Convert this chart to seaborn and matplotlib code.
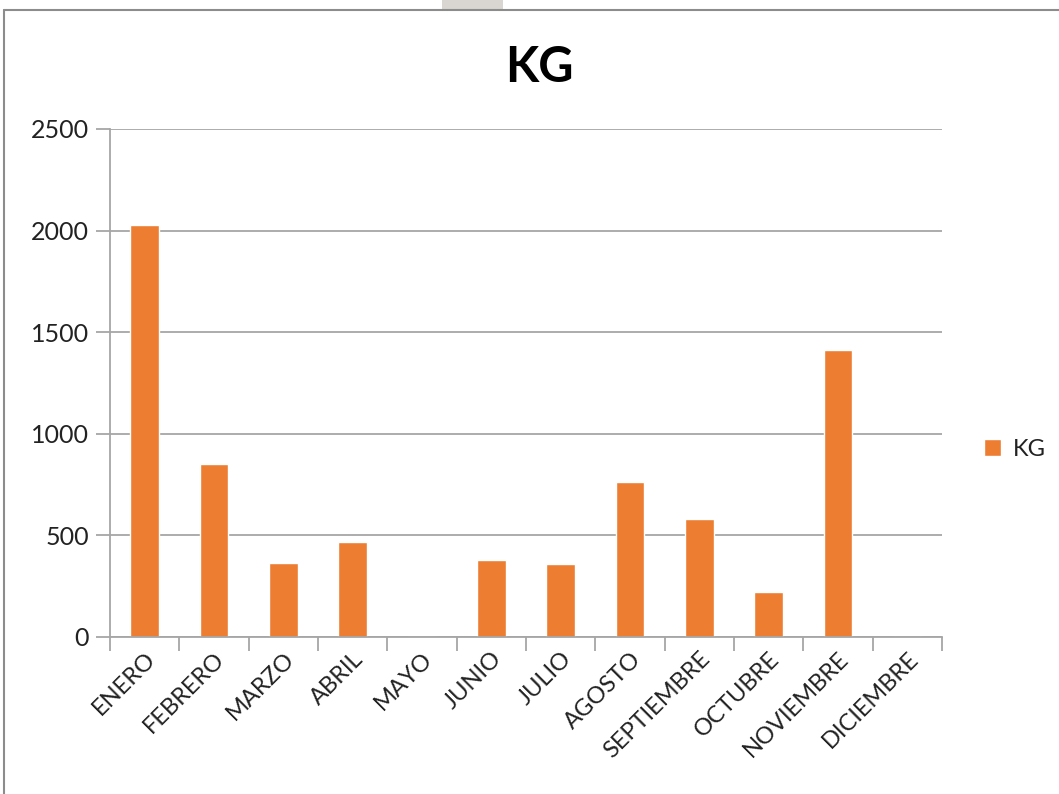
import pandas as pd
import matplotlib
matplotlib.use("Agg")
import matplotlib.pyplot as plt
import matplotlib.patches as mpatches
from matplotlib.ticker import FixedLocator
import seaborn as sns

# data
meses = ['ENERO', 'FEBRERO', 'MARZO', 'ABRIL', 'MAYO', 'JUNIO', 'JULIO',
         'AGOSTO', 'SEPTIEMBRE', 'OCTUBRE', 'NOVIEMBRE', 'DICIEMBRE']
kg = [2030, 849, 365, 466, 0, 377, 357, 761, 579, 222, 1414, 0]
serie = 'KG'
y_ticks = [0, 500, 1000, 1500, 2000, 2500]

ORANGE = '#ED7D31'
GRID = '#a6a6a6'

df = pd.DataFrame({'mes': meses, 'kg': kg, 'serie': serie})

sns.set_theme(style="white")
plt.rcParams['font.family'] = ['Lato', 'DejaVu Sans']

fig = plt.figure(figsize=(10.59, 7.94), dpi=100)
ax = fig.add_axes([110 / 1059, 1 - 637 / 794, (942 - 110) / 1059, (637 - 129) / 794])

sns.barplot(data=df, x='mes', y='kg', hue='serie', palette=[ORANGE],
            width=0.41, ax=ax, saturation=1)

ax.set_xlim(-0.5, len(meses) - 0.5)
ax.set_ylim(0, 2500)
ax.set_yticks(y_ticks)
ax.set_xlabel('')
ax.set_ylabel('')

# gridlines and axes in excel style
ax.yaxis.grid(True, color=GRID, linewidth=1.3)
ax.set_axisbelow(True)
for s in ['top', 'right']:
    ax.spines[s].set_visible(False)
for s in ['left', 'bottom']:
    ax.spines[s].set_color(GRID)
    ax.spines[s].set_linewidth(1.3)

ax.tick_params(axis='y', which='major', left=True, length=10, width=1.3,
               color=GRID, labelsize=18, labelcolor='#222222', pad=5)
ax.tick_params(axis='x', which='major', length=0, labelsize=17,
               labelcolor='#222222', pad=8)
ax.xaxis.set_minor_locator(FixedLocator([i - 0.5 for i in range(len(meses) + 1)]))
ax.tick_params(axis='x', which='minor', bottom=True, length=10, width=1.3, color=GRID)

for lab in ax.get_xticklabels():
    lab.set_rotation(45)
    lab.set_ha('right')
    lab.set_rotation_mode('anchor')

fig.text(539 / 1059, 1 - 82 / 794, 'KG', fontsize=35, fontweight='bold',
         color='black', ha='center', va='baseline')

leg = ax.legend(loc='center left', bbox_to_anchor=(1.025, 0.37), frameon=False,
                fontsize=17, handlelength=0.7, handleheight=0.7, handletextpad=0.5)
for t in leg.get_texts():
    t.set_color('#222222')

# chart border and screenshot remnant
fig.add_artist(plt.Line2D([4 / 1059, 1], [1 - 10 / 794, 1 - 10 / 794],
                          transform=fig.transFigure, color='#8c8c8c', linewidth=1.5))
fig.add_artist(plt.Line2D([4 / 1059, 4 / 1059], [0, 1 - 10 / 794],
                          transform=fig.transFigure, color='#8c8c8c', linewidth=1.5))
fig.add_artist(mpatches.Rectangle((442 / 1059, 1 - 10 / 794), 61 / 1059, 10 / 794,
                                  transform=fig.transFigure, color='#d9d6d2', lw=0))

fig.savefig('out.png', dpi=100)
